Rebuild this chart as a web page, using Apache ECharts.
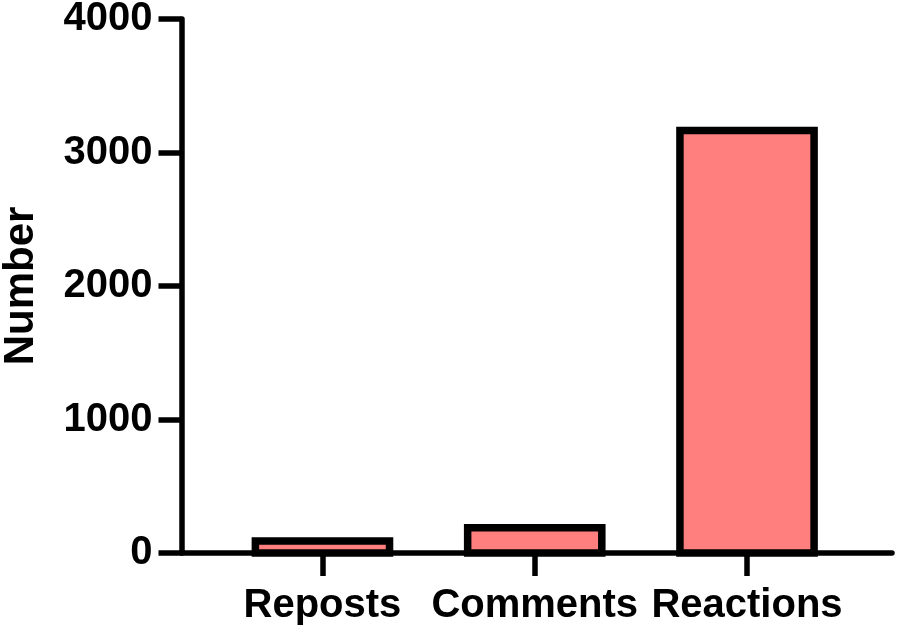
<!DOCTYPE html>
<html>
<head>
<meta charset="utf-8">
<script src="https://cdn.jsdelivr.net/npm/echarts@6/dist/echarts.min.js"></script>
<style>html,body{margin:0;padding:0;background:#fff;}#c{width:897px;height:633px;}</style>
</head>
<body>
<div id="c"></div>
<script>
const categories = ['Reposts', 'Comments', 'Reactions'];
const values = [90, 190, 3165];
const yTicks = [0, 1000, 2000, 3000, 4000];

const chart = echarts.init(document.getElementById('c'), null, {renderer: 'canvas'});
const font = 'Liberation Sans, Arial, Helvetica, sans-serif';
const positions = categories.map((c, i) => i);
const BAR_SPAN = 0.632; // bar width in category units
chart.setOption({
  animation: false,
  backgroundColor: '#ffffff',
  grid: {left: 181.5, right: 5, top: 19, bottom: 80, containLabel: false, outerBoundsMode: 'none'},
  xAxis: {
    type: 'value',
    min: -0.664,
    max: 2.683,
    splitLine: {show: false},
    axisLine: {show: true, onZero: false, lineStyle: {color: '#000', width: 5.5}},
    axisTick: {show: true, customValues: positions, length: 23, lineStyle: {color: '#000', width: 5.5}},
    axisLabel: {
      show: true, customValues: positions, margin: 33,
      formatter: v => categories[Math.round(v)],
      color: '#000', fontSize: 40, fontWeight: 'bold', fontFamily: font
    }
  },
  yAxis: {
    type: 'value',
    min: yTicks[0],
    max: yTicks[yTicks.length - 1],
    interval: 1000,
    name: 'Number',
    nameLocation: 'middle',
    nameGap: 139,
    nameTextStyle: {color: '#000', fontSize: 42, fontWeight: 'bold', fontFamily: font},
    splitLine: {show: false},
    axisLine: {show: true, onZero: false, lineStyle: {color: '#000', width: 5.5}},
    axisTick: {show: true, length: 23, lineStyle: {color: '#000', width: 5.5}},
    axisLabel: {margin: 29, formatter: v => String(v), color: '#000', fontSize: 40, fontWeight: 'bold', fontFamily: font}
  },
  series: [{
    type: 'custom',
    encode: {x: 0, y: 1},
    data: values.map((v, i) => [positions[i], v]),
    renderItem: (params, api) => {
      const x = api.value(0), v = api.value(1);
      const top = api.coord([x, v]);
      const bot = api.coord([x, 0]);
      const left = api.coord([x - BAR_SPAN / 2, v]);
      const right = api.coord([x + BAR_SPAN / 2, v]);
      return {
        type: 'rect',
        shape: {x: left[0], y: top[1], width: right[0] - left[0], height: bot[1] - top[1]},
        style: {fill: '#FF7F7F', stroke: '#000', lineWidth: 7.5}
      };
    }
  }]
});
</script>
</body>
</html>
